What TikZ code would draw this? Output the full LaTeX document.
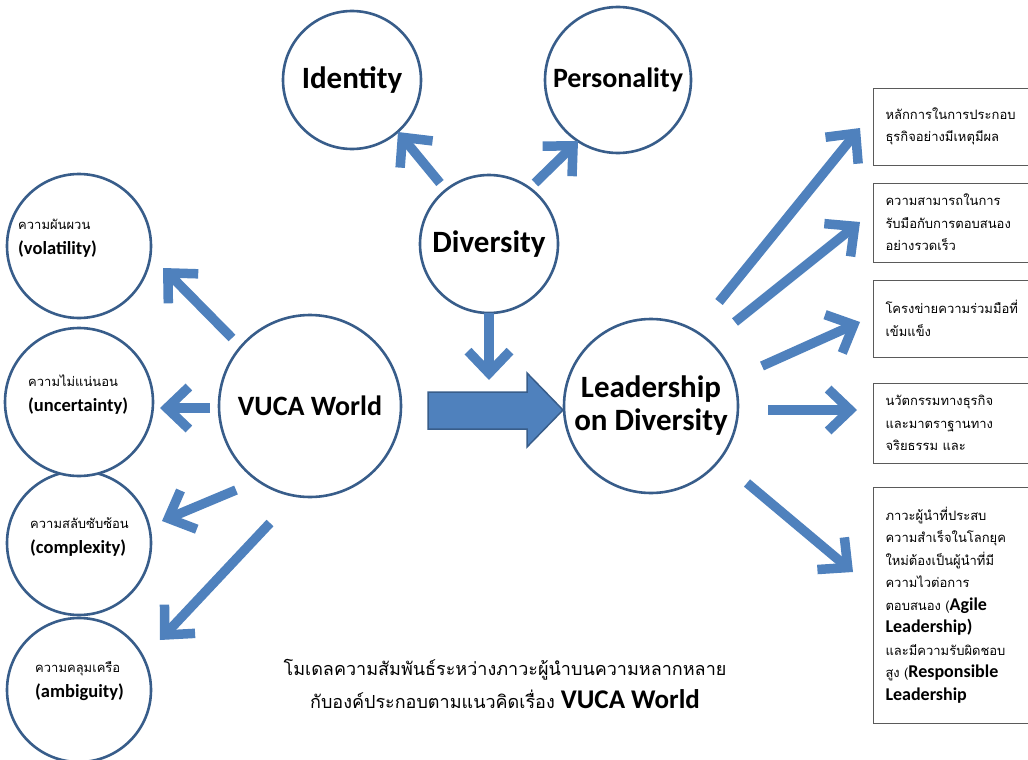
\documentclass[tikz,border=0pt]{standalone}
\usepackage{fontspec}
\setmainfont{Carlito}
\newfontfamily\thaifnt[Script=Thai]{Loma}
\usetikzlibrary{arrows.meta}
\definecolor{arrblue}{RGB}{79,129,189}
\definecolor{circblue}{RGB}{56,93,138}
\definecolor{boxgray}{RGB}{90,90,90}
\newcommand\thx[1]{{\thaifnt #1}}
\newcommand\lbx[1]{{\bfseries\fontsize{18}{22.5}\selectfont #1}}
\newcommand\lcx[1]{{\bfseries\fontsize{18.5}{25}\selectfont #1}}
\begin{document}
\begin{tikzpicture}[x=1pt,y=-1pt,
  circ/.style={circle,draw=circblue,line width=2.6pt,fill=white,inner sep=0pt,align=center,font=\fontsize{31}{34}\selectfont\bfseries},
  arr/.style={draw=arrblue,line width=9.5pt,-{Straight Barb[length=22pt,width=42pt]}},
  sml/.style={align=left,font=\fontsize{13}{25}\selectfont,inner sep=0pt,anchor=west},
  rbox/.style={draw=boxgray,line width=1pt,minimum width=174pt,text width=150pt,inner xsep=12pt,align=left,font=\fontsize{13}{22.5}\selectfont,anchor=west},
  bigarrow/.style={fill=arrblue,draw=circblue,line width=1.5pt},
]
\useasboundingbox (0,0) rectangle (1028,760);
\fill[white] (0,0) rectangle (1028,760);

% top circles
\node[circ,minimum size=138pt] (identity) at (352,80) {Identity};
\node[circ,minimum size=146pt,font=\fontsize{28}{30}\selectfont\bfseries] (personality) at (618,80) {Personality};
\node[circ,minimum size=138pt] (diversity) at (489,244) {Diversity};

% main circles
\node[circ,minimum size=182pt,font=\fontsize{28}{32}\selectfont\bfseries] (vuca) at (310,406) {VUCA World};
\node[circ,minimum size=174pt,font=\fontsize{31}{33}\selectfont\bfseries] (lead) at (651,406) {Leadership\\on Diversity};

% left circles
\node[circ,minimum size=144pt] (vol) at (79,246) {};
\node[circ,minimum size=144pt] (comp) at (79,543) {};
\node[circ,minimum size=148pt] (unc) at (79,402) {};
\node[circ,minimum size=144pt] (amb) at (79,690) {};
\node[sml] (volt) at (18,238) {\thx{ความผันผวน}\\\lcx{(volatility)}};
\node[sml] (unct) at (28,395) {\thx{ความไม่แน่นอน}\\\lcx{(uncertainty)}};
\node[sml] (compt) at (30,537) {\thx{ความสลับซับซ้อน}\\\lcx{(complexity)}};
\node[sml] (ambt) at (35,681) {\thx{ความคลุมเครือ}\\\lcx{(ambiguity)}};

% right boxes
\node[rbox,minimum height=77pt] (b1) at (873,126.5) {\thx{หลักการในการประกอบ\\ธุรกิจอย่างมีเหตุมีผล}};
\node[rbox,minimum height=79pt] (b2) at (873,222.5) {\thx{ความสามารถในการ\\รับมือกับการตอบสนอง\\อย่างรวดเร็ว}};
\node[rbox,minimum height=77pt] (b3) at (873,318.5) {\thx{โครงข่ายความร่วมมือที่\\เข้มแข็ง}};
\node[rbox,minimum height=80pt] (b4) at (873,423) {\thx{นวัตกรรมทางธุรกิจ\\และมาตราฐานทาง\\จริยธรรม และ}};
\node[rbox,minimum height=236pt] (b5) at (873,605) {\thx{ภาวะผู้นำที่ประสบ}\\\thx{ความสำเร็จในโลกยุค}\\\thx{ใหม่ต้องเป็นผู้นำที่มี}\\\thx{ความไวต่อการ}\\\thx{ตอบสนอง (}\lbx{Agile}\\\lbx{Leadership)}\\\thx{และมีความรับผิดชอบ}\\\thx{สูง (}\lbx{Responsible}\\\lbx{Leadership}};

% caption
\node[align=center,inner sep=0pt,font=\thaifnt\fontsize{18}{33}\selectfont] (cap) at (505,684) {โมเดลความสัมพันธ์ระหว่างภาวะผู้นำบนความหลากหลาย\\กับองค์ประกอบตามแนวคิดเรื่อง {\rmfamily\bfseries\fontsize{27}{33}\selectfont VUCA World}};

% arrow end points
\coordinate (idS) at (440,183); \coordinate (idE) at (398,132);
\coordinate (peS) at (535,183); \coordinate (peE) at (578,141);
\coordinate (dvS) at (489,313); \coordinate (dvE) at (489,380);
\coordinate (l1S) at (232,338); \coordinate (l1E) at (163,268);
\coordinate (l2S) at (210,408); \coordinate (l2E) at (160,408);
\coordinate (l3S) at (236,490); \coordinate (l3E) at (162,521);
\coordinate (l4S) at (270,523); \coordinate (l4E) at (160,640);
\coordinate (r1S) at (719,302); \coordinate (r1E) at (860,128);
\coordinate (r2S) at (735,322); \coordinate (r2E) at (860,222);
\coordinate (r3S) at (762,366); \coordinate (r3E) at (860,322);
\coordinate (r4S) at (768,410); \coordinate (r4E) at (857,410);
\coordinate (r5S) at (747,483); \coordinate (r5E) at (853,572);

\draw[arr] (idS) -- (idE);
\draw[arr] (peS) -- (peE);
\draw[arr] (dvS) -- (dvE);
\draw[arr] (l1S) -- (l1E);
\draw[arr] (l2S) -- (l2E);
\draw[arr] (l3S) -- (l3E);
\draw[arr] (l4S) -- (l4E);
\draw[arr] (r1S) -- (r1E);
\draw[arr] (r2S) -- (r2E);
\draw[arr] (r3S) -- (r3E);
\draw[arr] (r4S) -- (r4E);
\draw[arr] (r5S) -- (r5E);

% big block arrow from VUCA to Leadership
\draw[bigarrow] (428,392) -- (527,392) -- (527,373) -- (563,410) -- (527,447) -- (527,429) -- (428,429) -- cycle;
\end{tikzpicture}
\end{document}
